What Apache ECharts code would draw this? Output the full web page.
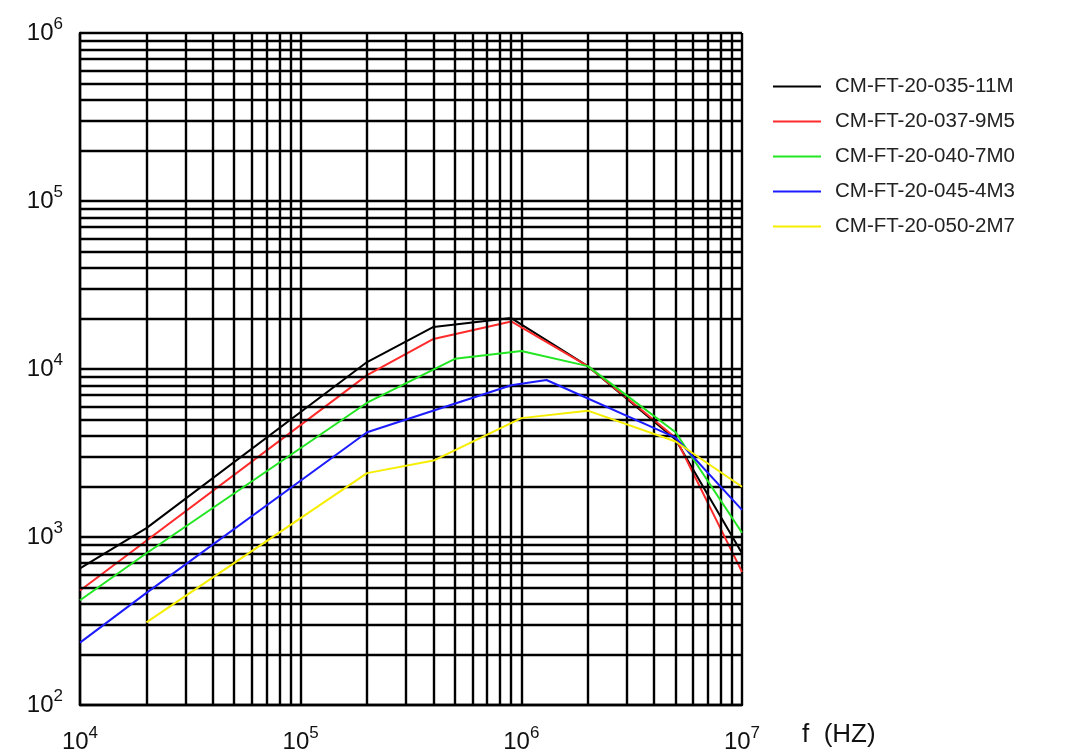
<!DOCTYPE html>
<html>
<head>
<meta charset="utf-8">
<script src="https://cdn.jsdelivr.net/npm/echarts@6/dist/echarts.min.js"></script>
<style>
html,body{margin:0;padding:0;background:#fff;}
#chart{width:1080px;height:755px;}
</style>
</head>
<body>
<div id="chart"></div>
<script>
// ---- data ----
var seriesNames = ['CM-FT-20-035-11M','CM-FT-20-037-9M5','CM-FT-20-040-7M0','CM-FT-20-045-4M3','CM-FT-20-050-2M7'];
var seriesColors = ['#000000','#ff2a2a','#22e622','#1c1cff','#f6ee00'];

var freq11M = [1e4, 2e4, 2e5, 4e5, 9e5, 2e6, 5e6, 1e7];
var val11M  = [650, 1130, 11000, 17800, 20100, 10400, 3800, 800];

var freq9M5 = [1e4, 2e5, 4e5, 9e5, 2e6, 5e6, 1e7];
var val9M5  = [480, 9200, 15100, 19200, 10400, 3900, 620];

var freq7M0 = [1e4, 2e4, 2e5, 5e5, 1e6, 2e6, 5e6, 1e7];
var val7M0  = [420, 800, 6300, 11500, 12800, 10400, 4200, 1060];

var freq4M3 = [1e4, 2e4, 2e5, 9e5, 1.3e6, 5e6, 1e7];
var val4M3  = [235, 465, 4200, 8000, 8600, 3900, 1450];

var freq2M7 = [2e4, 2e5, 4e5, 1e6, 2e6, 5e6, 1e7];
var val2M7  = [310, 2400, 2850, 5100, 5650, 3700, 1990];

// grid (log paper) lines
var xDecades = [1e4, 1e5, 1e6];
var yDecades = [1e2, 1e3, 1e4, 1e5];
var minorMultipliers = [2, 3, 4, 5, 6, 7, 8, 9];

function pairs(xs, ys){ return xs.map(function(x, i){ return [x, ys[i]]; }); }
var allFreq = [freq11M, freq9M5, freq7M0, freq4M3, freq2M7];
var allVal  = [val11M, val9M5, val7M0, val4M3, val2M7];

var minorLines = [];
xDecades.forEach(function(d){ minorMultipliers.forEach(function(m){ minorLines.push({xAxis: d*m}); }); });
yDecades.forEach(function(d){ minorMultipliers.forEach(function(m){ minorLines.push({yAxis: d*m}); }); });

var FONT = 'Liberation Sans, Arial, sans-serif';
var richLabel = {
  b: {fontSize: 24, fontFamily: FONT, color: '#111'},
  s: {fontSize: 17, fontFamily: FONT, color: '#111', padding: [0, 0, 18, 0]}
};
function powLabel(v){
  var e = Math.round(Math.log10(v));
  return '{b|10}{s|' + e + '}';
}

var GRID_W = 2.4;
var series = [{
  name: '__grid',
  type: 'line',
  data: [],
  silent: true,
  z: 1,
  markLine: {
    silent: true,
    symbol: ['none', 'none'],
    label: {show: false},
    emphasis: {disabled: true},
    animation: false,
    lineStyle: {color: '#000', width: GRID_W, type: 'solid'},
    data: minorLines
  }
}];
seriesNames.forEach(function(n, i){
  series.push({
    name: n,
    type: 'line',
    data: pairs(allFreq[i], allVal[i]),
    showSymbol: false,
    symbol: 'none',
    z: 3 + i,
    lineStyle: {color: seriesColors[i], width: 2},
    itemStyle: {color: seriesColors[i]},
    emphasis: {disabled: true}
  });
});

var chart = echarts.init(document.getElementById('chart'));
chart.setOption({
  animation: false,
  backgroundColor: '#fff',
  grid: {left: 80, right: 338, top: 33, bottom: 50, containLabel: false},
  legend: {
    data: seriesNames,
    orient: 'vertical',
    left: 768,
    top: 70,
    itemWidth: 48,
    itemHeight: 2,
    itemGap: 12,
    icon: 'rect',
    textStyle: {fontSize: 20.5, fontFamily: FONT, color: '#222', lineHeight: 23, padding: [0, 0, 0, 9]},
    selectedMode: false
  },
  xAxis: {
    type: 'log',
    logBase: 10,
    min: 1e4,
    max: 1e7,
    name: 'f  (HZ)',
    nameLocation: 'end',
    nameGap: 60,
    nameTextStyle: {fontSize: 26, fontFamily: FONT, color: '#111', verticalAlign: 'top', align: 'left', padding: [17, 0, 0, 0]},
    axisLine: {show: true, lineStyle: {color: '#000', width: GRID_W}},
    axisTick: {show: false},
    axisLabel: {margin: 20, formatter: powLabel, rich: richLabel, showMinLabel: true, showMaxLabel: true},
    splitLine: {show: true, lineStyle: {color: '#000', width: GRID_W}}
  },
  yAxis: {
    type: 'log',
    logBase: 10,
    min: 1e2,
    max: 1e6,
    axisLine: {show: true, lineStyle: {color: '#000', width: GRID_W}},
    axisTick: {show: false},
    axisLabel: {margin: 17, formatter: powLabel, rich: richLabel, showMinLabel: true, showMaxLabel: true},
    splitLine: {show: true, lineStyle: {color: '#000', width: GRID_W}}
  },
  series: series
});
</script>
</body>
</html>
